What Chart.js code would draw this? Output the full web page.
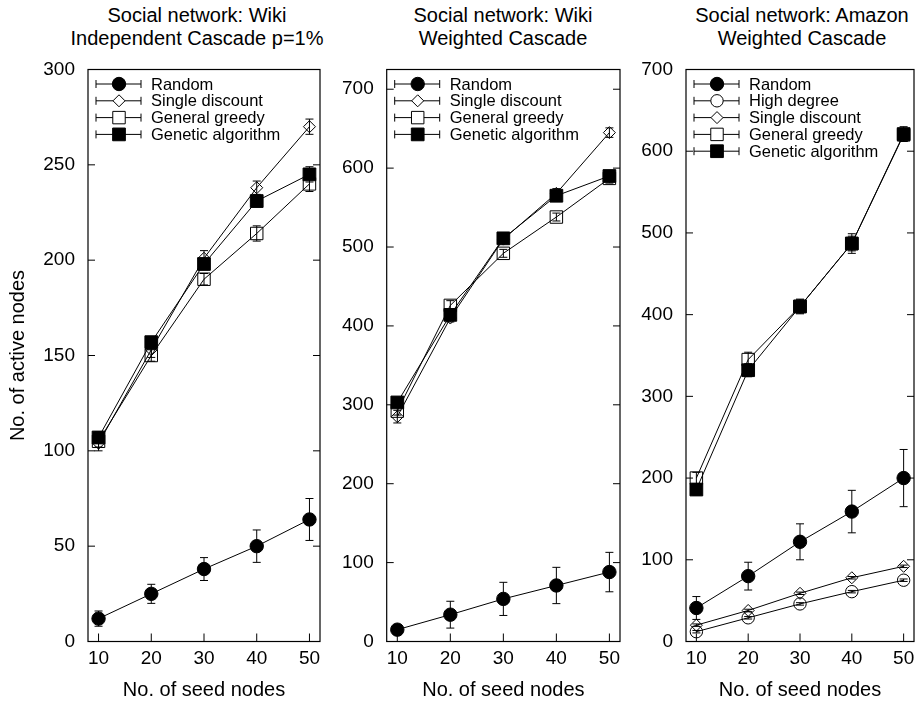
<!DOCTYPE html>
<html>
<head>
<meta charset="utf-8">
<script src="https://cdn.jsdelivr.net/npm/chart.js@4.4.0/dist/chart.umd.min.js"></script>
<style>
  body { margin: 0; background: #fff; width: 924px; height: 702px; overflow: hidden; position: relative;
         font-family: "Liberation Sans", Arial, Helvetica, sans-serif; }
  canvas { position: absolute; top: 0; }
  .title { position: absolute; top: 4px; text-align: center; font-size: 20px; line-height: 23px;
           color: #000; white-space: nowrap; transform: translateX(-50%); }
</style>
</head>
<body>
<div class="title" style="left:197px">Social network: Wiki<br>Independent Cascade p=1%</div>
<div class="title" style="left:503px">Social network: Wiki<br>Weighted Cascade</div>
<div class="title" style="left:802px">Social network: Amazon<br>Weighted Cascade</div>
<canvas id="wikiIc" width="330" height="702" style="left:0"></canvas>
<canvas id="wikiWc" width="300" height="702" style="left:330px"></canvas>
<canvas id="amazonWc" width="294" height="702" style="left:630px"></canvas>
<script>
const seedNodes = [10, 20, 30, 40, 50];
const xTicks = [10, 20, 30, 40, 50];
const wikiIcYTicks = [0, 50, 100, 150, 200, 250, 300];
const wikiWcYTicks = [0, 100, 200, 300, 400, 500, 600, 700];
const amazonYTicks = [0, 100, 200, 300, 400, 500, 600, 700];

// Wiki, Independent Cascade p=1%
const wikiIcRandom = [12, 25, 38, 50, 64];
const wikiIcRandomErr = [4, 5, 6, 8.5, 11];
const wikiIcSingle = [104, 153, 201, 238, 270];
const wikiIcSingleErr = [4, 4, 4, 3.5, 4];
const wikiIcGreedy = [105, 150, 190, 214, 240];
const wikiIcGreedyErr = [3, 3, 3, 4, 4];
const wikiIcGenetic = [107, 157, 198, 231, 245];
const wikiIcGeneticErr = [3, 3, 3, 3, 4];

// Wiki, Weighted Cascade
const wikiWcRandom = [15, 34, 54, 71, 88];
const wikiWcRandomErr = [6, 17, 21, 23, 25];
const wikiWcSingle = [285, 410, 510, 568, 645];
const wikiWcSingleErr = [8, 5, 5, 6, 6];
const wikiWcGreedy = [292, 426, 492, 538, 587];
const wikiWcGreedyErr = [5, 6, 5, 5, 6];
const wikiWcGenetic = [303, 414, 511, 565, 590];
const wikiWcGeneticErr = [5, 5, 6, 6, 5];

// Amazon, Weighted Cascade
const amazonRandom = [41, 80, 122, 159, 200];
const amazonRandomErr = [14, 17, 22, 26, 35];
const amazonHighDegree = [12, 29, 46, 61, 75];
const amazonHighDegreeErr = [1.5, 1.5, 1.5, 1.5, 1.5];
const amazonSingle = [20, 38, 59, 78, 92];
const amazonSingleErr = [1.5, 1.5, 1.5, 1.5, 1.5];
const amazonGreedy = [200, 345, 410, 487, 620];
const amazonGreedyErr = [7, 9, 8, 9, 8];
const amazonGenetic = [186, 332, 410, 487, 621];
const amazonGeneticErr = [7, 8, 9, 12, 9];

// marker look per method (gnuplot-like)
const markers = {
  "Random": { style: "circle", radius: 6.7, filled: true },
  "High degree": { style: "circle", radius: 6.2, filled: false },
  "Single discount": { style: "rectRot", radius: 6, filled: false },
  "General greedy": { style: "rect", radius: 8.8, filled: false },
  "Genetic algorithm": { style: "rect", radius: 9, filled: true },
};

Chart.defaults.font.family = '"Liberation Sans", Arial, Helvetica, sans-serif';
Chart.defaults.font.size = 19;
Chart.defaults.color = "#000";

const gnuplotLook = {
  id: "gnuplotLook",
  beforeDatasetDraw(chart, args) {
    const ds = chart.data.datasets[args.index];
    if (!ds.errors) return;
    const ctx = chart.ctx;
    const xs = chart.scales.x, ys = chart.scales.y;
    ctx.save();
    ctx.strokeStyle = "#000";
    ctx.lineWidth = 1;
    ds.data.forEach((p, i) => {
      const px = xs.getPixelForValue(p.x);
      const top = ys.getPixelForValue(p.y + ds.errors[i]);
      const bot = ys.getPixelForValue(p.y - ds.errors[i]);
      ctx.beginPath();
      ctx.moveTo(px, top); ctx.lineTo(px, bot);
      ctx.moveTo(px - 4, top); ctx.lineTo(px + 4, top);
      ctx.moveTo(px - 4, bot); ctx.lineTo(px + 4, bot);
      ctx.stroke();
    });
    ctx.restore();
  },
  afterDraw(chart) {
    const ctx = chart.ctx;
    const { left, right, top, bottom } = chart.chartArea;
    const xs = chart.scales.x, ys = chart.scales.y;
    ctx.save();
    ctx.strokeStyle = "#000";
    // border
    ctx.lineWidth = 1.2;
    ctx.strokeRect(left, top, right - left, bottom - top);
    // inward ticks, y mirrored on the right
    ctx.lineWidth = 1;
    ctx.beginPath();
    ys.ticks.forEach(t => {
      const py = ys.getPixelForValue(t.value);
      ctx.moveTo(left, py); ctx.lineTo(left + 7, py);
      ctx.moveTo(right, py); ctx.lineTo(right - 7, py);
    });
    xs.ticks.forEach(t => {
      const px = xs.getPixelForValue(t.value);
      ctx.moveTo(px, bottom); ctx.lineTo(px, bottom - 8);
    });
    ctx.stroke();
    // key, top left inside the plot
    ctx.font = '16.5px "Liberation Sans", Arial, Helvetica, sans-serif';
    ctx.textBaseline = "middle";
    ctx.textAlign = "left";
    ctx.fillStyle = "#000";
    chart.data.datasets.forEach((ds, k) => {
      const y = top + 14.5 + k * 16.8;
      const x0 = left + 8, x1 = left + 53, xm = left + 31;
      ctx.beginPath();
      ctx.moveTo(x0, y); ctx.lineTo(x1, y);
      ctx.moveTo(x0, y - 4); ctx.lineTo(x0, y + 4);
      ctx.moveTo(x1, y - 4); ctx.lineTo(x1, y + 4);
      ctx.stroke();
      const m = markers[ds.label];
      ctx.fillStyle = m.filled ? "#000" : "#fff";
      Chart.helpers.drawPoint(ctx, { pointStyle: m.style, radius: m.radius, borderWidth: 1, rotation: 0 }, xm, y);
      ctx.fillStyle = "#000";
      ctx.fillText(ds.label, left + 63, y + 1);
    });
    ctx.restore();
  }
};

function makePanel(id, series, yTicks, yMax, axisWidth, padRight, yTitle) {
  const n = series.length;
  const datasets = series.map(([label, values, errors], i) => {
    const m = markers[label];
    return {
      label,
      data: seedNodes.map((x, j) => ({ x, y: values[j] })),
      errors,
      order: n - 1 - i,
      borderColor: "#000",
      borderWidth: 1,
      tension: 0,
      pointStyle: m.style,
      pointRadius: m.radius,
      pointHoverRadius: m.radius,
      pointBorderWidth: 1,
      pointBorderColor: "#000",
      pointBackgroundColor: m.filled ? "#000" : "rgba(0,0,0,0)",
      clip: false,
    };
  });
  return new Chart(document.getElementById(id), {
    type: "line",
    data: { datasets },
    options: {
      responsive: false,
      animation: false,
      devicePixelRatio: 1,
      layout: { padding: { top: 69.5, right: padRight, bottom: 0, left: 0 } },
      plugins: { legend: { display: false }, tooltip: { enabled: false } },
      scales: {
        x: {
          type: "linear", min: 8, max: 52,
          afterBuildTicks: s => { s.ticks = xTicks.map(v => ({ value: v })); },
          afterFit: s => { s.height = 60.5; },
          grid: { display: false, drawTicks: false },
          border: { display: false },
          ticks: { padding: 6, autoSkip: false, maxRotation: 0 },
          title: { display: true, text: "No. of seed nodes", font: { size: 20 }, padding: { top: 0, bottom: 0 } },
        },
        y: {
          type: "linear", min: 0, max: yMax,
          afterBuildTicks: s => { s.ticks = yTicks.map(v => ({ value: v })); },
          afterFit: s => { s.width = axisWidth; },
          grid: { display: false, drawTicks: false },
          border: { display: false },
          ticks: { padding: 13, autoSkip: false },
          title: { display: !!yTitle, text: yTitle || "", font: { size: 20 }, padding: { top: 6, bottom: 0 } },
        },
      },
    },
    plugins: [gnuplotLook],
  });
}

makePanel("wikiIc", [
  ["Random", wikiIcRandom, wikiIcRandomErr],
  ["Single discount", wikiIcSingle, wikiIcSingleErr],
  ["General greedy", wikiIcGreedy, wikiIcGreedyErr],
  ["Genetic algorithm", wikiIcGenetic, wikiIcGeneticErr],
], wikiIcYTicks, 300, 88, 10, "No. of active nodes");

makePanel("wikiWc", [
  ["Random", wikiWcRandom, wikiWcRandomErr],
  ["Single discount", wikiWcSingle, wikiWcSingleErr],
  ["General greedy", wikiWcGreedy, wikiWcGreedyErr],
  ["Genetic algorithm", wikiWcGenetic, wikiWcGeneticErr],
], wikiWcYTicks, 725, 56.7, 10, null);

makePanel("amazonWc", [
  ["Random", amazonRandom, amazonRandomErr],
  ["High degree", amazonHighDegree, amazonHighDegreeErr],
  ["Single discount", amazonSingle, amazonSingleErr],
  ["General greedy", amazonGreedy, amazonGreedyErr],
  ["Genetic algorithm", amazonGenetic, amazonGeneticErr],
], amazonYTicks, 700, 56, 6, null);
</script>
</body>
</html>
